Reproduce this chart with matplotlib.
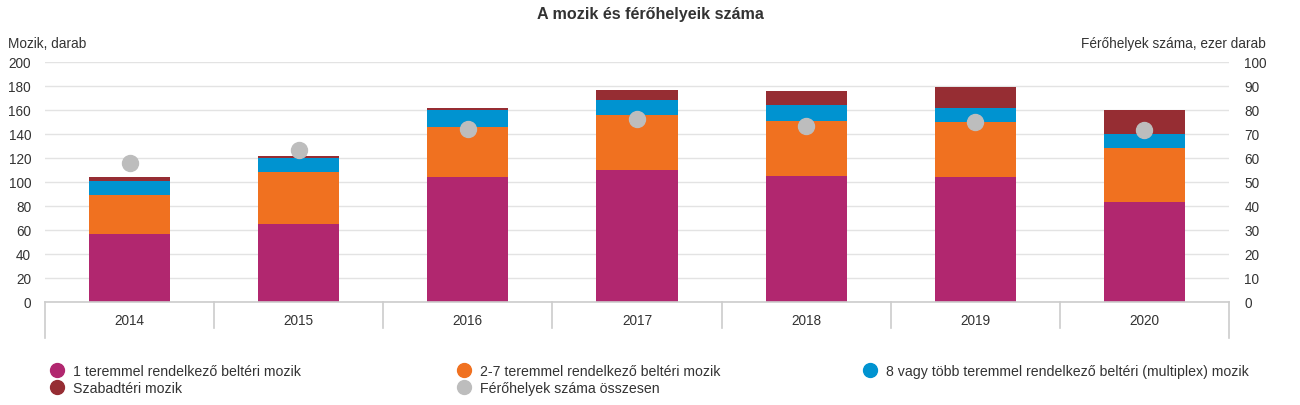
import matplotlib
matplotlib.use("Agg")
import matplotlib.pyplot as plt
from matplotlib.lines import Line2D
import numpy as np

plt.rcParams['font.family'] = ['Liberation Sans', 'DejaVu Sans']

years = ["2014", "2015", "2016", "2017", "2018", "2019", "2020"]
egy_terem = [57, 65, 104, 110, 105, 104, 83]
ket_het_terem = [32, 43, 42, 46, 46, 46, 45]
multiplex = [12, 12, 14, 12, 13, 12, 12]
szabadteri = [3, 2, 2, 9, 12, 17, 20]
ferohely = [58.1, 63.2, 72.1, 76.2, 73.3, 75.0, 71.6]

labels = ["1 teremmel rendelkező beltéri mozik",
          "2-7 teremmel rendelkező beltéri mozik",
          "8 vagy több teremmel rendelkező beltéri (multiplex) mozik",
          "Szabadtéri mozik",
          "Férőhelyek száma összesen"]
colors = ["#B1276F", "#F07120", "#0093D0", "#962D33", "#BDBDBD"]
txt = "#333333"

W, H = 1300, 406
fig = plt.figure(figsize=(W / 100, H / 100), dpi=100)
ax = fig.add_axes([45 / W, 1 - 303 / H, (1229 - 45) / W, 240 / H])

x = np.arange(len(years))
bw = 0.48
series = [egy_terem, ket_het_terem, multiplex, szabadteri]
bottom = np.zeros(len(years))
for vals, c in zip(series, colors[:4]):
    ax.bar(x, vals, bw, bottom=bottom, color=c, edgecolor="none", zorder=2)
    bottom += np.array(vals)

ax.set_xlim(-0.5, len(years) - 0.5)
ax.set_ylim(0, 200)
ax.set_yticks(np.arange(0, 201, 20))
ax.grid(axis="y", color="#e3e3e3", linewidth=1, zorder=0)
ax.set_axisbelow(True)
for s in ["top", "right", "left"]:
    ax.spines[s].set_visible(False)
ax.spines["bottom"].set_color("#cccccc")
ax.spines["bottom"].set_linewidth(1.2)
ax.set_xticks(x)
ax.set_xticklabels(years)
ax.tick_params(axis="x", length=0, pad=8, labelsize=9.8, labelcolor=txt)
ax.tick_params(axis="y", length=0, pad=10, labelsize=9.8, labelcolor=txt)

# category separators below axis
tr = ax.get_xaxis_transform()
for i, b in enumerate(np.arange(-0.5, len(years), 1.0)):
    outer = i == 0 or i == len(years)
    ax.plot([b, b], [0, -0.15 if outer else -0.108], transform=tr,
            color="#cccccc", lw=1.2, clip_on=False, zorder=1)

ax2 = ax.twinx()
ax2.set_ylim(0, 100)
ax2.set_yticks(np.arange(0, 101, 10))
for s in ["top", "right", "left", "bottom"]:
    ax2.spines[s].set_visible(False)
ax2.tick_params(axis="y", length=0, pad=11, labelsize=9.8, labelcolor=txt)
ax2.plot(x, ferohely, linestyle="none", marker="o", markersize=11.5,
         color=colors[4], zorder=3)

fig.text(650 / W, 1 - 14 / H, "A mozik és férőhelyeik száma", ha="center",
         va="center", fontsize=11.6, fontweight="bold", color=txt)
fig.text(8 / W, 1 - 44 / H, "Mozik, darab", ha="left", va="center",
         fontsize=9.8, color=txt)
fig.text(1266 / W, 1 - 44 / H, "Férőhelyek száma, ezer darab", ha="right",
         va="center", fontsize=9.8, color=txt)

def handle(c):
    return Line2D([], [], linestyle="none", marker="o", markersize=10,
                  markerfacecolor=c, markeredgecolor=c)

groups = [([0, 3], 50), ([1, 4], 457), ([2], 863)]
for idx, xpx in groups:
    fig.legend([handle(colors[i]) for i in idx], [labels[i] for i in idx],
               loc="upper left", bbox_to_anchor=(xpx / W, 1 - 365 / H),
               frameon=False, fontsize=10.15, handlelength=1.0,
               handletextpad=0.6, labelspacing=0.22, borderpad=0,
               borderaxespad=0, labelcolor=txt)

fig.savefig("out.png", dpi=100)
